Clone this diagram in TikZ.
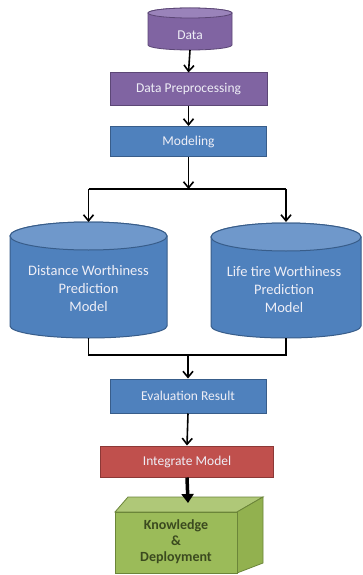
\documentclass[tikz,border=0pt]{standalone}
\usepackage{fontspec}
\setmainfont{Carlito}
\usetikzlibrary{arrows.meta,calc}
\definecolor{pfill}{HTML}{8064A2}
\definecolor{ptop}{HTML}{9A83BA}
\definecolor{pline}{HTML}{5C4776}
\definecolor{bfill}{HTML}{4F81BD}
\definecolor{btop}{HTML}{6F98CB}
\definecolor{bline}{HTML}{385D8A}
\definecolor{rfill}{HTML}{C0504D}
\definecolor{rline}{HTML}{8C3836}
\definecolor{gfill}{HTML}{9BBB59}
\definecolor{gtop}{HTML}{AFC878}
\definecolor{gside}{HTML}{92B14F}
\definecolor{gline}{HTML}{6B8539}
\definecolor{gtext}{HTML}{3B4A1F}
\definecolor{ltext}{HTML}{EEEEF6}
\begin{document}
\begin{tikzpicture}[x=1pt,y=1pt,
  lbl/.style={font=\fontsize{13.5}{15}\selectfont, text=ltext, align=center},
  clbl/.style={font=\fontsize{14.5}{16}\selectfont, text=ltext, align=center},
  boxp/.style={draw=pline, fill=pfill, line width=1pt, minimum width=157pt, minimum height=33pt, lbl},
  boxb/.style={draw=bline, fill=bfill, line width=1pt, minimum width=156pt, minimum height=30pt, lbl},
  boxr/.style={draw=rline, fill=rfill, line width=1pt, minimum width=173pt, minimum height=31pt, lbl},
  ghost/.style={inner sep=0pt, outer sep=0pt},
  arr/.style={line width=1.6pt, -{Straight Barb[length=6pt,width=10pt,line width=1.6pt]}},
  ln/.style={line width=1.6pt}
]
\useasboundingbox (0,0) rectangle (362,-575);
\fill[white] (0,0) rectangle (362,-575);

% Data cylinder
\node[ghost, minimum width=84pt, minimum height=42pt] (data) at (190,-29) {};
\filldraw[fill=pfill, draw=pline, line width=0.8pt]
  (148,-13) -- (148,-45) arc[start angle=180,end angle=360,x radius=42pt,y radius=5pt]
  -- (232,-13) arc[start angle=0,end angle=180,x radius=42pt,y radius=5pt] -- cycle;
\filldraw[fill=ptop, draw=pline, line width=0.8pt] (190,-13) ellipse[x radius=42pt, y radius=5pt];
\node[lbl] at (190,-35) {Data};

% boxes
\node[boxp] (pre) at (188.5,-89.5) {Data Preprocessing};
\node[boxb] (mod) at (188.5,-141.5) {Modeling};

% left cylinder
\node[ghost, minimum width=157pt, minimum height=116pt] (dw) at (88.5,-280) {};
\filldraw[fill=bfill, draw=bline, line width=1pt]
  (10,-236) -- (10,-326) arc[start angle=180,end angle=360,x radius=78.5pt,y radius=12pt]
  -- (167,-236) arc[start angle=0,end angle=180,x radius=78.5pt,y radius=14pt] -- cycle;
\filldraw[fill=btop, draw=bline, line width=1pt] (88.5,-236) ellipse[x radius=78.5pt, y radius=14pt];
\node[clbl] at (88.5,-289) {Distance Worthiness\\[2pt]Prediction\\[2pt]Model};

% right cylinder
\node[ghost, minimum width=150pt, minimum height=116pt] (lw) at (286,-280) {};
\filldraw[fill=bfill, draw=bline, line width=1pt]
  (211,-237) -- (211,-326) arc[start angle=180,end angle=360,x radius=75pt,y radius=12pt]
  -- (361,-237) arc[start angle=0,end angle=180,x radius=75pt,y radius=14pt] -- cycle;
\filldraw[fill=btop, draw=bline, line width=1pt] (286,-237) ellipse[x radius=75pt, y radius=14pt];
\node[clbl] at (284,-290) {Life tire Worthiness\\[2pt]Prediction\\[2pt]Model};

\node[boxb, minimum height=34pt] (eval) at (188,-396) {Evaluation Result};
\node[boxr] (integ) at (187,-461.5) {Integrate Model};

% 3D box
\node[ghost, minimum width=148pt, minimum height=76pt] (kd) at (189,-535) {};
\filldraw[fill=gtop, draw=gline, line width=0.8pt] (115,-512) -- (128,-497) -- (263,-497) -- (237,-512) -- cycle;
\filldraw[fill=gside, draw=gline, line width=0.8pt] (237,-512) -- (263,-497) -- (263,-563) -- (237,-573) -- cycle;
\filldraw[fill=gfill, draw=gline, line width=0.8pt] (115,-512) rectangle (237,-573);
\node[font=\fontsize{14}{16}\selectfont\bfseries, text=gtext, align=center] at (176,-542) {Knowledge\\[0pt]\&\\[0pt]Deployment};

% connectors
\coordinate (split) at (188.5,-189);
\coordinate (merge) at (188,-355);
\draw[arr] (data.south) -- (pre.north);
\draw[arr] (pre.south) -- (mod.north);
\draw[arr] (mod.south) -- (split);
\draw[ln] (dw.north |- split) -- (lw.north |- split);
\draw[arr] (dw.north |- split) -- (dw.north);
\draw[arr] (lw.north |- split) -- (lw.north);
\draw[ln] (dw.south) -- (dw.south |- merge) -- (lw.south |- merge) -- (lw.south);
\draw[arr] (merge) -- (eval.north);
\draw[arr] (eval.south) -- (integ.north);
\draw[line width=3.5pt, -{Triangle[length=9pt,width=12pt]}] (integ.south) -- (188,-503);
\end{tikzpicture}
\end{document}
